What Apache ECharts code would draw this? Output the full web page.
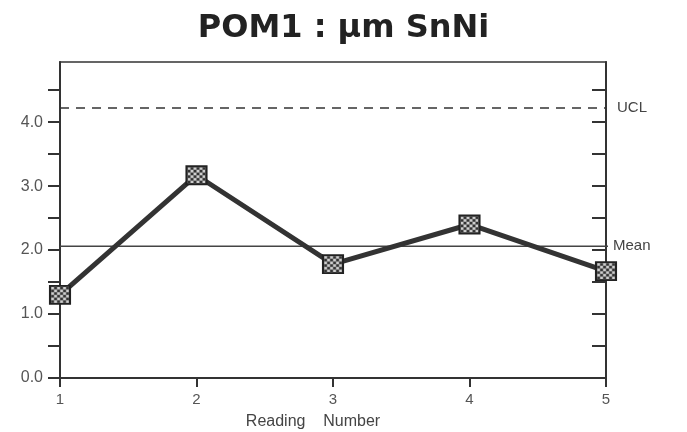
<!DOCTYPE html>
<html><head><meta charset="utf-8">
<script src="https://cdn.jsdelivr.net/npm/echarts@6/dist/echarts.min.js"></script>
<style>html,body{margin:0;padding:0;background:#fff}#c{width:687px;height:432px}</style>
</head><body><div id="c"></div>
<script>
const readings = [1, 2, 3, 4, 5];
const values = [1.30, 3.17, 1.78, 2.40, 1.67];
const meanValue = 2.06;
const uclValue = 4.22;
const yTickValues = [0, 0.5, 1, 1.5, 2, 2.5, 3, 3.5, 4, 4.5];
const yLabelValues = [0, 1, 2, 3, 4];
const xTickValues = [1, 2, 3, 4, 5];

// checkered marker pattern
const pc = document.createElement('canvas');
pc.width = 4; pc.height = 4;
const pctx = pc.getContext('2d');
pctx.fillStyle = '#333'; pctx.fillRect(0,0,4,4);
pctx.fillStyle = '#cfcfcf'; pctx.fillRect(0,0,2,2); pctx.fillRect(2,2,2,2);

const chart = echarts.init(document.getElementById('c'));
const axisTextColor = '#555';
const ff = 'Liberation Sans, Arial';
chart.setOption({
  backgroundColor: '#fff',
  animation: false,
  title: {
    text: 'POM1 : µm SnNi', left: 'center', top: 8,
    textStyle: {fontFamily: 'DejaVu Sans', fontSize: 32, fontWeight: 'bold', color: '#222'}
  },
  grid: {left: 60, right: 81, top: 62, bottom: 54, show: true, borderColor: '#333', borderWidth: 1.5,
    containLabel: false, outerBoundsMode: 'none'},
  xAxis: {
    type: 'value', min: 1, max: 5, interval: 1,
    name: 'Reading    Number', nameLocation: 'middle', nameGap: 36,
    nameTextStyle: {fontFamily: ff, fontSize: 16, color: '#444', padding: [0, 40, 0, 0]},
    splitLine: {show: false},
    axisLine: {show: true, onZero: false, lineStyle: {color: '#333', width: 2}},
    axisTick: {show: true, length: 9, lineStyle: {color: '#333', width: 2}, customValues: xTickValues},
    axisLabel: {fontFamily: ff, fontSize: 15, color: axisTextColor, margin: 14, customValues: xTickValues}
  },
  yAxis: [{
    type: 'value', min: 0, max: 4.94, position: 'left',
    splitLine: {show: false},
    axisLine: {show: true, lineStyle: {color: '#333', width: 2}},
    axisTick: {show: true, length: 12, lineStyle: {color: '#333', width: 2}, customValues: yTickValues},
    axisLabel: {fontFamily: ff, fontSize: 16, color: axisTextColor, margin: 17,
      customValues: yLabelValues, formatter: v => v.toFixed(1)}
  }, {
    type: 'value', min: 0, max: 4.94, position: 'right',
    splitLine: {show: false},
    axisLine: {show: true, lineStyle: {color: '#333', width: 2}},
    axisTick: {show: true, inside: true, length: 14, lineStyle: {color: '#333', width: 2}, customValues: yTickValues},
    axisLabel: {show: false}
  }],
  series: [{
    type: 'line', name: 'UCL', clip: false, symbol: 'none',
    data: [[readings[0], uclValue], [readings[readings.length-1], uclValue]],
    lineStyle: {color: '#333', width: 1.5, type: [9, 7]},
    endLabel: {show: true, formatter: 'UCL', distance: 11, fontFamily: ff, fontSize: 15, color: '#444'}
  }, {
    type: 'line', name: 'Mean', clip: false, symbol: 'none',
    data: [[readings[0], meanValue], [5.1, meanValue]],
    lineStyle: {color: '#444', width: 1.5},
    endLabel: {show: true, formatter: 'Mean', distance: 5, fontFamily: ff, fontSize: 15, color: '#444'}
  }, {
    type: 'line', name: 'POM1', clip: false,
    data: readings.map((r, i) => [r, values[i]]),
    lineStyle: {color: '#333', width: 5},
    symbol: 'rect', symbolSize: [20, 18],
    itemStyle: {color: {image: pc, repeat: 'repeat', scaleX: 0.15, scaleY: 0.15}, borderColor: '#222', borderWidth: 2}
  }]
});
</script></body></html>
